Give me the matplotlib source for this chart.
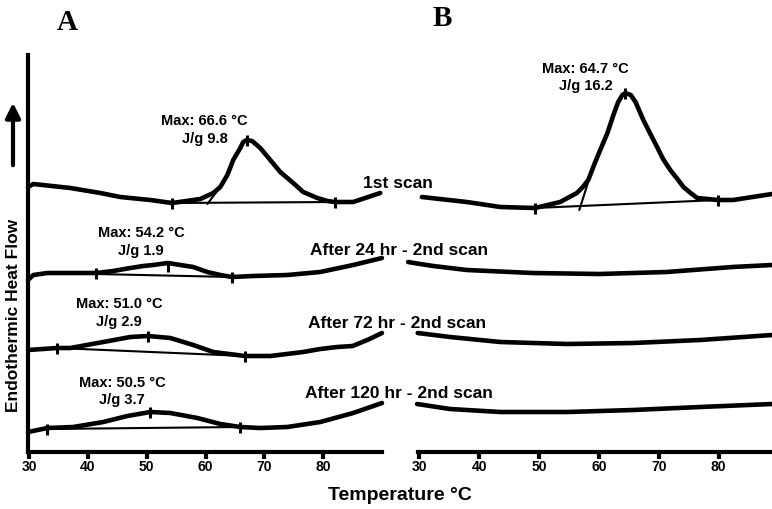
import matplotlib
matplotlib.use("Agg")
import matplotlib.pyplot as plt

# ---------------- data (temperature °C, heat flow in arbitrary units, stacked offsets) -------------
x_ticks = [30, 40, 50, 60, 70, 80]

# Panel A
a1_T  = [29.8, 30.7, 37.0, 42.1, 45.5, 50.6, 54.3, 57.9, 59.1, 61.3, 62.5, 63.7, 64.7, 65.9, 66.4, 67.0, 67.9, 69.3,
         71.0, 72.7, 74.9, 76.6, 79.0, 80.7, 82.0, 85.1, 89.7]
a1_hf = [26.5, 26.8, 26.4, 25.9, 25.5, 25.2, 24.9, 25.2, 25.3, 25.9, 26.5, 27.7, 29.2, 30.4, 31.0, 31.2, 31.1, 30.4,
         29.2, 28.0, 26.9, 26.0, 25.4, 25.1, 25.0, 25.0, 25.9]
a1_base_T, a1_base_hf = [54.3, 82.0], [24.9, 25.0]
a1_tan_T, a1_tan_hf = [60.3, 63.0], [24.8, 26.9]
a1_tick_T, a1_tick_hf = [54.3, 67.0, 82.0], [24.9, 31.2, 25.0]

a24_T  = [29.8, 30.7, 33.1, 41.4, 44.3, 47.2, 49.4, 51.1, 53.6, 55.7, 57.9, 60.3, 62.5, 64.5, 68.1, 73.9, 79.5, 85.1, 90.0]
a24_hf = [17.2, 17.7, 17.9, 17.9, 18.1, 18.4, 18.6, 18.7, 18.9, 18.7, 18.5, 18.0, 17.7, 17.5, 17.6, 17.7, 18.0, 18.7, 19.4]
a24_base_T, a24_base_hf = [41.4, 64.5], [17.8, 17.5]
a24_tick_T, a24_tick_hf = [41.4, 53.6, 64.5], [17.9, 18.6, 17.5]

a72_T  = [29.8, 34.8, 37.0, 42.6, 47.2, 50.2, 54.0, 57.9, 61.3, 66.7, 71.0, 76.6, 79.5, 82.4, 85.0, 87.5, 90.0]
a72_hf = [10.2, 10.4, 10.4, 11.0, 11.5, 11.6, 11.4, 10.7, 10.0, 9.6, 9.6, 10.0, 10.3, 10.5, 10.6, 11.2, 11.9]
a72_base_T, a72_base_hf = [34.8, 66.7], [10.4, 9.6]
a72_tick_T, a72_tick_hf = [34.8, 50.2, 66.7], [10.4, 11.6, 9.6]

a120_T  = [29.8, 33.1, 37.5, 42.6, 46.7, 50.6, 54.0, 58.6, 62.5, 65.9, 69.3, 73.9, 79.5, 85.1, 90.0]
a120_hf = [2.0, 2.4, 2.5, 3.0, 3.6, 4.0, 3.9, 3.4, 2.8, 2.5, 2.4, 2.5, 3.0, 3.9, 4.9]
a120_base_T, a120_base_hf = [33.1, 65.9], [2.3, 2.5]
a120_tick_T, a120_tick_hf = [33.1, 50.6, 65.9], [2.3, 4.0, 2.5]

# Panel B
b1_T  = [30.4, 37.9, 43.5, 49.3, 53.5, 56.3, 57.3, 58.2, 59.3, 60.2, 61.4, 62.4, 63.2, 63.9, 64.4, 65.3, 66.1, 67.4,
         68.5, 69.7, 70.7, 71.9, 73.1, 74.1, 75.3, 76.4, 79.9, 82.4, 88.9]
b1_hf = [25.5, 25.0, 24.5, 24.4, 25.0, 25.9, 26.5, 27.2, 28.9, 30.2, 31.9, 33.7, 35.0, 35.7, 35.9, 35.7, 35.0, 33.2,
         31.9, 30.5, 29.3, 28.2, 27.3, 26.5, 25.9, 25.4, 25.2, 25.2, 25.8]
b1_base_T, b1_base_hf = [49.3, 79.9], [24.4, 25.2]
b1_tan_T, b1_tan_hf = [56.7, 58.3], [24.2, 27.2]
b1_tick_T, b1_tick_hf = [49.3, 64.4, 79.9], [24.4, 35.9, 25.2]

b24_T  = [28.1, 30.1, 32.3, 37.9, 48.9, 60.1, 71.3, 82.3, 88.9]
b24_hf = [19.0, 18.8, 18.6, 18.2, 17.9, 17.8, 18.0, 18.5, 18.7]
b72_T  = [29.7, 35.1, 43.5, 54.7, 65.7, 76.9, 88.9]
b72_hf = [11.9, 11.5, 11.0, 10.8, 10.9, 11.2, 11.7]
b120_T  = [29.6, 35.1, 43.5, 54.7, 65.7, 76.9, 88.9]
b120_hf = [4.8, 4.3, 4.0, 4.0, 4.2, 4.5, 4.8]

# peak annotations
a_peak_max = [66.6, 54.2, 51.0, 50.5]
a_peak_jg = [9.8, 1.9, 2.9, 3.7]
b_peak_max = 64.7
b_peak_jg = 16.2
scan_labels = ["1st scan", "After 24 hr - 2nd scan", "After 72 hr - 2nd scan", "After 120 hr - 2nd scan"]

# ---------------- figure ----------------
W, H = 772, 509
fig = plt.figure(figsize=(W / 100, H / 100), dpi=100)
fig.patch.set_facecolor("white")

SANS = ["Liberation Sans", "DejaVu Sans"]
SERIF = ["Liberation Serif", "DejaVu Serif"]

ax_bottom, ax_top = 452, 55
axA = fig.add_axes([28 / W, (H - ax_bottom) / H, 354 / W, (ax_bottom - ax_top) / H])
axB = fig.add_axes([418 / W, (H - ax_bottom) / H, 354 / W, (ax_bottom - ax_top) / H])

axA.set_xlim(29.8, 90.0)
axB.set_xlim(29.75, 88.9)
for ax in (axA, axB):
    ax.set_ylim(0, 39.7)
    ax.set_facecolor("none")
    for s in ("top", "right"):
        ax.spines[s].set_visible(False)
    ax.spines["bottom"].set_linewidth(3.0)
    ax.spines["left"].set_linewidth(3.0)
    ax.set_yticks([])
    ax.set_xticks(x_ticks)
    ax.set_xticklabels([str(t) for t in x_ticks], fontsize=10, fontweight="bold", family=SANS)
    ax.tick_params(axis="x", direction="out", length=5, width=3, pad=1)
axB.spines["left"].set_visible(False)

CURVE_LW = 3.3
THIN_LW = 1.5
TICK_HALF = 0.55


def draw(ax, T, hf, lw=CURVE_LW):
    ax.plot(T, hf, color="black", lw=lw, solid_capstyle="round", solid_joinstyle="round", clip_on=False)


def ticks(ax, T, hf):
    ax.vlines(T, [h - TICK_HALF for h in hf], [h + TICK_HALF for h in hf], colors="black", lw=2.2, clip_on=False)


# Panel A
draw(axA, a1_T, a1_hf); draw(axA, a1_base_T, a1_base_hf, THIN_LW); draw(axA, a1_tan_T, a1_tan_hf, THIN_LW)
ticks(axA, a1_tick_T, a1_tick_hf)
draw(axA, a24_T, a24_hf); draw(axA, a24_base_T, a24_base_hf, THIN_LW); ticks(axA, a24_tick_T, a24_tick_hf)
draw(axA, a72_T, a72_hf); draw(axA, a72_base_T, a72_base_hf, THIN_LW); ticks(axA, a72_tick_T, a72_tick_hf)
draw(axA, a120_T, a120_hf); draw(axA, a120_base_T, a120_base_hf, THIN_LW); ticks(axA, a120_tick_T, a120_tick_hf)

# Panel B
draw(axB, b1_T, b1_hf); draw(axB, b1_base_T, b1_base_hf, THIN_LW); draw(axB, b1_tan_T, b1_tan_hf, THIN_LW)
ticks(axB, b1_tick_T, b1_tick_hf)
draw(axB, b24_T, b24_hf)
draw(axB, b72_T, b72_hf)
draw(axB, b120_T, b120_hf)

# Peak annotations
LBL = dict(fontsize=10.5, fontweight="bold", family=SANS, ha="center", va="baseline", clip_on=False)
a_lbl_pos = [(59.8, 32.7, 30.9), (49.0, 21.5, 19.7), (45.3, 14.4, 12.6), (45.8, 6.5, 4.8)]
for (x, y1, y2), m, j in zip(a_lbl_pos, a_peak_max, a_peak_jg):
    axA.text(x, y1, f"Max: {m:.1f} °C", **LBL)
    axA.text(x, y2, f"J/g {j:.1f}", **LBL)
axB.text(57.8, 37.9, f"Max: {b_peak_max:.1f} °C", **LBL)
axB.text(57.8, 36.2, f"J/g {b_peak_jg:.1f}", **LBL)

# Scan labels
scan_pos = [(86.8, 26.4), (77.8, 19.7), (77.4, 12.4), (76.9, 5.4)]
for (x, y), s in zip(scan_pos, scan_labels):
    axA.text(x, y, s, fontsize=12.5, fontweight="bold", family=SANS, ha="left", va="baseline", clip_on=False)

# Panel letters
fig.text(67 / W, 1 - 22 / H, "A", fontsize=21, fontweight="bold", family=SERIF, ha="center", va="center")
fig.text(442 / W, 1 - 19 / H, "B", fontsize=21, fontweight="bold", family=SERIF, ha="center", va="center")

# Axis labels
fig.text(400 / W, 1 - 496 / H, "Temperature °C", fontsize=14, fontweight="bold", family=SANS, ha="center", va="center")
fig.text(14 / W, 1 - 315 / H, "Endothermic Heat Flow", fontsize=12.5, fontweight="bold", family=SANS,
         ha="center", va="center", rotation=90)

# Arrow
fig.add_artist(matplotlib.patches.FancyArrowPatch((13 / W, 1 - 168 / H), (13 / W, 1 - 100 / H),
                                                  transform=fig.transFigure, arrowstyle="-|>",
                                                  mutation_scale=22, lw=3, color="black"))

fig.savefig("out.png", dpi=100, facecolor="white")
